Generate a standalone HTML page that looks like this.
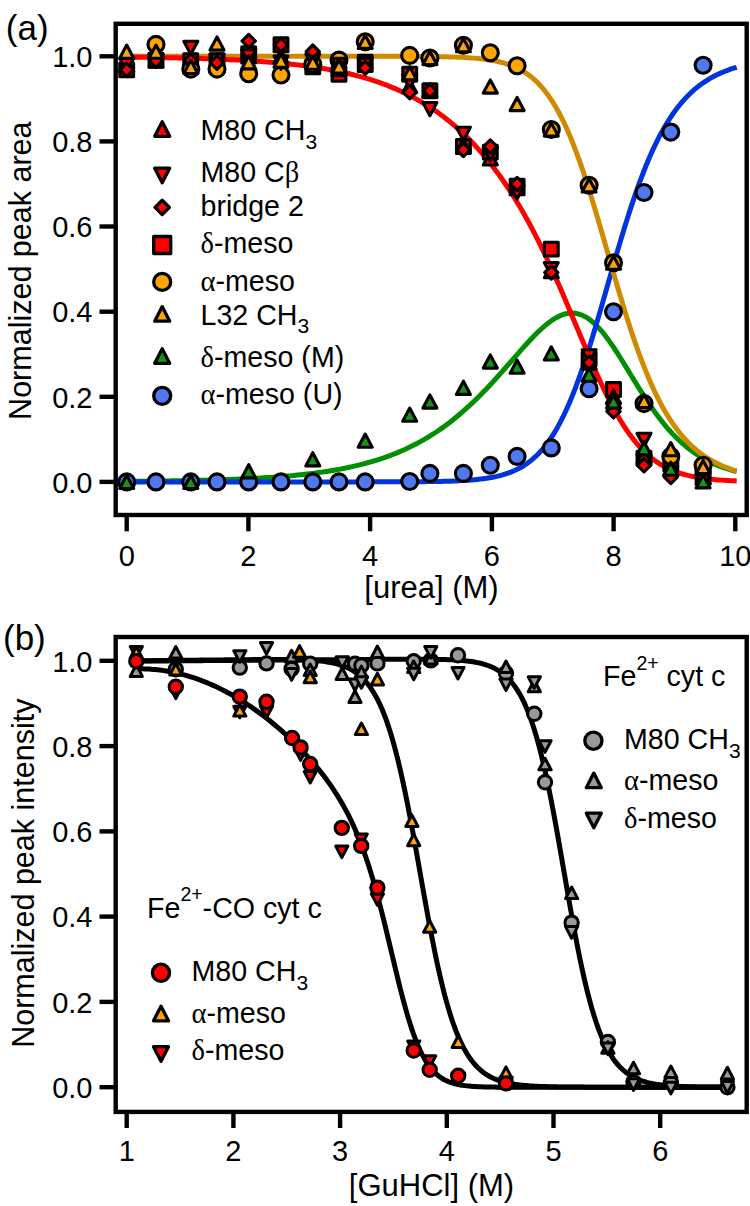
<!DOCTYPE html>
<html><head><meta charset="utf-8"><style>
html,body{margin:0;padding:0;background:#fff;}
body{width:750px;height:1206px;overflow:hidden;font-family:"Liberation Sans",sans-serif;}
svg{display:block;}
</style></head><body>
<svg width="750" height="1206" viewBox="0 0 750 1206">
<rect width="750" height="1206" fill="#fff"/>
<g fill="none" stroke-width="5" stroke-linecap="butt">
<path d="M126.70,481.38 L129.75,481.36 L132.80,481.33 L135.85,481.30 L138.90,481.28 L141.95,481.25 L145.00,481.22 L148.05,481.18 L151.10,481.15 L154.15,481.11 L157.20,481.08 L160.25,481.04 L163.30,481.00 L166.35,480.95 L169.40,480.91 L172.45,480.86 L175.50,480.81 L178.55,480.76 L181.60,480.71 L184.65,480.65 L187.70,480.59 L190.75,480.53 L193.80,480.47 L196.85,480.40 L199.90,480.33 L202.95,480.26 L206.00,480.18 L209.05,480.10 L212.10,480.01 L215.15,479.92 L218.20,479.83 L221.25,479.73 L224.30,479.63 L227.35,479.52 L230.40,479.41 L233.45,479.30 L236.50,479.17 L239.55,479.05 L242.60,478.91 L245.65,478.77 L248.70,478.62 L251.75,478.47 L254.80,478.31 L257.85,478.14 L260.90,477.97 L263.95,477.78 L267.00,477.59 L270.05,477.39 L273.10,477.18 L276.15,476.95 L279.20,476.72 L282.25,476.48 L285.30,476.23 L288.35,475.96 L291.40,475.69 L294.45,475.40 L297.50,475.10 L300.55,474.78 L303.60,474.45 L306.65,474.10 L309.70,473.74 L312.75,473.36 L315.80,472.97 L318.85,472.55 L321.90,472.12 L324.95,471.67 L328.00,471.20 L331.05,470.70 L334.10,470.19 L337.15,469.65 L340.20,469.09 L343.25,468.50 L346.30,467.89 L349.35,467.25 L352.40,466.58 L355.45,465.88 L358.50,465.16 L361.55,464.40 L364.60,463.60 L367.65,462.78 L370.70,461.92 L373.75,461.02 L376.80,460.08 L379.85,459.10 L382.90,458.09 L385.95,457.03 L389.00,455.92 L392.05,454.77 L395.10,453.58 L398.15,452.33 L401.20,451.04 L404.25,449.69 L407.30,448.29 L410.35,446.83 L413.40,445.32 L416.45,443.75 L419.50,442.11 L422.55,440.42 L425.60,438.66 L428.65,436.84 L431.70,434.95 L434.75,433.00 L437.80,430.98 L440.85,428.88 L443.90,426.72 L446.95,424.48 L450.00,422.16 L453.05,419.78 L456.10,417.32 L459.15,414.78 L462.20,412.17 L465.25,409.48 L468.30,406.72 L471.35,403.89 L474.40,400.98 L477.45,398.00 L480.50,394.95 L483.55,391.84 L486.60,388.66 L489.65,385.42 L492.70,382.13 L495.75,378.78 L498.80,375.39 L501.85,371.96 L504.90,368.50 L507.95,365.02 L511.00,361.52 L514.05,358.03 L517.10,354.54 L520.15,351.07 L523.20,347.64 L526.25,344.26 L529.30,340.94 L532.35,337.71 L535.40,334.59 L538.45,331.59 L541.50,328.73 L544.55,326.04 L547.60,323.55 L550.65,321.26 L553.70,319.21 L556.75,317.42 L559.80,315.90 L562.85,314.70 L565.90,313.81 L568.95,313.27 L572.00,313.09 L575.05,313.28 L578.10,313.85 L581.15,314.82 L584.20,316.17 L587.25,317.92 L590.30,320.06 L593.35,322.57 L596.40,325.44 L599.45,328.66 L602.50,332.20 L605.55,336.03 L608.60,340.13 L611.65,344.46 L614.70,349.00 L617.75,353.69 L620.80,358.52 L623.85,363.45 L626.90,368.43 L629.95,373.44 L633.00,378.45 L636.05,383.43 L639.10,388.35 L642.15,393.19 L645.20,397.93 L648.25,402.55 L651.30,407.03 L654.35,411.36 L657.40,415.54 L660.45,419.55 L663.50,423.39 L666.55,427.06 L669.60,430.55 L672.65,433.87 L675.70,437.01 L678.75,439.99 L681.80,442.80 L684.85,445.45 L687.90,447.95 L690.95,450.29 L694.00,452.49 L697.05,454.55 L700.10,456.48 L703.15,458.29 L706.20,459.97 L709.25,461.55 L712.30,463.01 L715.35,464.38 L718.40,465.66 L721.45,466.84 L724.50,467.95 L727.55,468.97 L730.60,469.92 L733.65,470.81 L736.70,471.63" stroke="#008f00"/>
<path d="M126.70,481.90 L129.75,481.90 L132.80,481.90 L135.85,481.90 L138.90,481.90 L141.95,481.90 L145.00,481.90 L148.05,481.90 L151.10,481.90 L154.15,481.90 L157.20,481.90 L160.25,481.90 L163.30,481.90 L166.35,481.90 L169.40,481.90 L172.45,481.90 L175.50,481.90 L178.55,481.90 L181.60,481.90 L184.65,481.90 L187.70,481.90 L190.75,481.90 L193.80,481.90 L196.85,481.90 L199.90,481.90 L202.95,481.90 L206.00,481.90 L209.05,481.90 L212.10,481.90 L215.15,481.90 L218.20,481.90 L221.25,481.90 L224.30,481.90 L227.35,481.90 L230.40,481.90 L233.45,481.90 L236.50,481.90 L239.55,481.90 L242.60,481.90 L245.65,481.90 L248.70,481.90 L251.75,481.90 L254.80,481.90 L257.85,481.90 L260.90,481.90 L263.95,481.90 L267.00,481.90 L270.05,481.90 L273.10,481.90 L276.15,481.90 L279.20,481.90 L282.25,481.90 L285.30,481.90 L288.35,481.90 L291.40,481.90 L294.45,481.90 L297.50,481.90 L300.55,481.90 L303.60,481.90 L306.65,481.90 L309.70,481.90 L312.75,481.90 L315.80,481.90 L318.85,481.90 L321.90,481.90 L324.95,481.90 L328.00,481.90 L331.05,481.90 L334.10,481.90 L337.15,481.89 L340.20,481.89 L343.25,481.89 L346.30,481.89 L349.35,481.89 L352.40,481.89 L355.45,481.89 L358.50,481.89 L361.55,481.88 L364.60,481.88 L367.65,481.88 L370.70,481.88 L373.75,481.87 L376.80,481.87 L379.85,481.87 L382.90,481.86 L385.95,481.86 L389.00,481.85 L392.05,481.84 L395.10,481.83 L398.15,481.82 L401.20,481.81 L404.25,481.80 L407.30,481.78 L410.35,481.77 L413.40,481.75 L416.45,481.73 L419.50,481.70 L422.55,481.67 L425.60,481.64 L428.65,481.60 L431.70,481.56 L434.75,481.51 L437.80,481.46 L440.85,481.39 L443.90,481.32 L446.95,481.24 L450.00,481.14 L453.05,481.04 L456.10,480.91 L459.15,480.78 L462.20,480.62 L465.25,480.44 L468.30,480.23 L471.35,480.00 L474.40,479.74 L477.45,479.44 L480.50,479.10 L483.55,478.72 L486.60,478.28 L489.65,477.79 L492.70,477.24 L495.75,476.61 L498.80,475.90 L501.85,475.11 L504.90,474.21 L507.95,473.20 L511.00,472.07 L514.05,470.80 L517.10,469.38 L520.15,467.79 L523.20,466.02 L526.25,464.04 L529.30,461.84 L532.35,459.41 L535.40,456.71 L538.45,453.73 L541.50,450.44 L544.55,446.83 L547.60,442.87 L550.65,438.54 L553.70,433.83 L556.75,428.71 L559.80,423.18 L562.85,417.21 L565.90,410.80 L568.95,403.94 L572.00,396.64 L575.05,388.90 L578.10,380.73 L581.15,372.15 L584.20,363.17 L587.25,353.83 L590.30,344.17 L593.35,334.22 L596.40,324.02 L599.45,313.63 L602.50,303.09 L605.55,292.47 L608.60,281.80 L611.65,271.16 L614.70,260.58 L617.75,250.12 L620.80,239.84 L623.85,229.76 L626.90,219.93 L629.95,210.38 L633.00,201.15 L636.05,192.25 L639.10,183.71 L642.15,175.54 L645.20,167.74 L648.25,160.32 L651.30,153.29 L654.35,146.64 L657.40,140.36 L660.45,134.45 L663.50,128.89 L666.55,123.68 L669.60,118.80 L672.65,114.24 L675.70,109.98 L678.75,106.01 L681.80,102.31 L684.85,98.87 L687.90,95.67 L690.95,92.70 L694.00,89.95 L697.05,87.40 L700.10,85.03 L703.15,82.84 L706.20,80.81 L709.25,78.93 L712.30,77.19 L715.35,75.59 L718.40,74.11 L721.45,72.74 L724.50,71.47 L727.55,70.30 L730.60,69.22 L733.65,68.22 L736.70,67.30" stroke="#0034dc"/>
<path d="M126.70,56.30 L129.75,56.30 L132.80,56.30 L135.85,56.30 L138.90,56.30 L141.95,56.30 L145.00,56.30 L148.05,56.30 L151.10,56.30 L154.15,56.30 L157.20,56.30 L160.25,56.30 L163.30,56.30 L166.35,56.30 L169.40,56.30 L172.45,56.30 L175.50,56.30 L178.55,56.30 L181.60,56.30 L184.65,56.30 L187.70,56.30 L190.75,56.30 L193.80,56.30 L196.85,56.30 L199.90,56.30 L202.95,56.30 L206.00,56.30 L209.05,56.30 L212.10,56.30 L215.15,56.30 L218.20,56.30 L221.25,56.30 L224.30,56.30 L227.35,56.30 L230.40,56.30 L233.45,56.30 L236.50,56.30 L239.55,56.30 L242.60,56.30 L245.65,56.30 L248.70,56.30 L251.75,56.30 L254.80,56.30 L257.85,56.30 L260.90,56.30 L263.95,56.30 L267.00,56.30 L270.05,56.30 L273.10,56.30 L276.15,56.30 L279.20,56.30 L282.25,56.30 L285.30,56.30 L288.35,56.30 L291.40,56.30 L294.45,56.30 L297.50,56.30 L300.55,56.30 L303.60,56.30 L306.65,56.30 L309.70,56.30 L312.75,56.30 L315.80,56.30 L318.85,56.30 L321.90,56.30 L324.95,56.30 L328.00,56.30 L331.05,56.30 L334.10,56.30 L337.15,56.30 L340.20,56.30 L343.25,56.30 L346.30,56.30 L349.35,56.31 L352.40,56.31 L355.45,56.31 L358.50,56.31 L361.55,56.31 L364.60,56.31 L367.65,56.31 L370.70,56.31 L373.75,56.32 L376.80,56.32 L379.85,56.32 L382.90,56.33 L385.95,56.33 L389.00,56.33 L392.05,56.34 L395.10,56.35 L398.15,56.35 L401.20,56.36 L404.25,56.37 L407.30,56.38 L410.35,56.39 L413.40,56.41 L416.45,56.42 L419.50,56.44 L422.55,56.47 L425.60,56.49 L428.65,56.52 L431.70,56.56 L434.75,56.59 L437.80,56.64 L440.85,56.69 L443.90,56.75 L446.95,56.82 L450.00,56.90 L453.05,56.99 L456.10,57.09 L459.15,57.21 L462.20,57.35 L465.25,57.51 L468.30,57.69 L471.35,57.90 L474.40,58.13 L477.45,58.40 L480.50,58.71 L483.55,59.06 L486.60,59.46 L489.65,59.92 L492.70,60.44 L495.75,61.03 L498.80,61.70 L501.85,62.46 L504.90,63.32 L507.95,64.29 L511.00,65.38 L514.05,66.62 L517.10,68.01 L520.15,69.57 L523.20,71.31 L526.25,73.27 L529.30,75.44 L532.35,77.87 L535.40,80.56 L538.45,83.54 L541.50,86.83 L544.55,90.46 L547.60,94.44 L550.65,98.79 L553.70,103.54 L556.75,108.69 L559.80,114.28 L562.85,120.29 L565.90,126.76 L568.95,133.66 L572.00,141.02 L575.05,148.81 L578.10,157.03 L581.15,165.65 L584.20,174.66 L587.25,184.03 L590.30,193.71 L593.35,203.67 L596.40,213.87 L599.45,224.25 L602.50,234.77 L605.55,245.37 L608.60,256.00 L611.65,266.60 L614.70,277.14 L617.75,287.55 L620.80,297.79 L623.85,307.83 L626.90,317.62 L629.95,327.13 L633.00,336.34 L636.05,345.21 L639.10,353.74 L642.15,361.91 L645.20,369.70 L648.25,377.13 L651.30,384.17 L654.35,390.85 L657.40,397.15 L660.45,403.09 L663.50,408.68 L666.55,413.93 L669.60,418.85 L672.65,423.45 L675.70,427.75 L678.75,431.77 L681.80,435.51 L684.85,438.99 L687.90,442.23 L690.95,445.24 L694.00,448.03 L697.05,450.62 L700.10,453.02 L703.15,455.25 L706.20,457.31 L709.25,459.21 L712.30,460.97 L715.35,462.60 L718.40,464.11 L721.45,465.50 L724.50,466.78 L727.55,467.96 L730.60,469.06 L733.65,470.07 L736.70,471.00" stroke="#d08a00"/>
<path d="M126.70,57.08 L129.75,57.11 L132.80,57.15 L135.85,57.18 L138.90,57.22 L141.95,57.26 L145.00,57.30 L148.05,57.35 L151.10,57.40 L154.15,57.44 L157.20,57.49 L160.25,57.55 L163.30,57.60 L166.35,57.66 L169.40,57.72 L172.45,57.78 L175.50,57.85 L178.55,57.91 L181.60,57.98 L184.65,58.06 L187.70,58.14 L190.75,58.22 L193.80,58.30 L196.85,58.39 L199.90,58.48 L202.95,58.58 L206.00,58.68 L209.05,58.78 L212.10,58.89 L215.15,59.00 L218.20,59.12 L221.25,59.25 L224.30,59.38 L227.35,59.51 L230.40,59.65 L233.45,59.80 L236.50,59.95 L239.55,60.11 L242.60,60.28 L245.65,60.45 L248.70,60.63 L251.75,60.82 L254.80,61.02 L257.85,61.23 L260.90,61.44 L263.95,61.66 L267.00,61.90 L270.05,62.14 L273.10,62.40 L276.15,62.66 L279.20,62.94 L282.25,63.23 L285.30,63.53 L288.35,63.84 L291.40,64.17 L294.45,64.51 L297.50,64.86 L300.55,65.24 L303.60,65.62 L306.65,66.02 L309.70,66.44 L312.75,66.88 L315.80,67.34 L318.85,67.81 L321.90,68.31 L324.95,68.82 L328.00,69.36 L331.05,69.92 L334.10,70.50 L337.15,71.11 L340.20,71.74 L343.25,72.40 L346.30,73.08 L349.35,73.79 L352.40,74.53 L355.45,75.31 L358.50,76.11 L361.55,76.95 L364.60,77.81 L367.65,78.72 L370.70,79.66 L373.75,80.64 L376.80,81.65 L379.85,82.71 L382.90,83.81 L385.95,84.95 L389.00,86.14 L392.05,87.37 L395.10,88.65 L398.15,89.98 L401.20,91.36 L404.25,92.79 L407.30,94.28 L410.35,95.82 L413.40,97.43 L416.45,99.09 L419.50,100.81 L422.55,102.60 L425.60,104.45 L428.65,106.37 L431.70,108.36 L434.75,110.42 L437.80,112.56 L440.85,114.77 L443.90,117.06 L446.95,119.43 L450.00,121.88 L453.05,124.42 L456.10,127.05 L459.15,129.77 L462.20,132.58 L465.25,135.48 L468.30,138.48 L471.35,141.59 L474.40,144.80 L477.45,148.11 L480.50,151.54 L483.55,155.07 L486.60,158.72 L489.65,162.49 L492.70,166.38 L495.75,170.39 L498.80,174.54 L501.85,178.81 L504.90,183.21 L507.95,187.75 L511.00,192.43 L514.05,197.25 L517.10,202.21 L520.15,207.32 L523.20,212.58 L526.25,217.99 L529.30,223.55 L532.35,229.25 L535.40,235.11 L538.45,241.12 L541.50,247.28 L544.55,253.58 L547.60,260.02 L550.65,266.60 L553.70,273.31 L556.75,280.13 L559.80,287.07 L562.85,294.11 L565.90,301.23 L568.95,308.41 L572.00,315.66 L575.05,322.93 L578.10,330.22 L581.15,337.50 L584.20,344.75 L587.25,351.95 L590.30,359.07 L593.35,366.08 L596.40,372.97 L599.45,379.70 L602.50,386.26 L605.55,392.63 L608.60,398.79 L611.65,404.71 L614.70,410.39 L617.75,415.82 L620.80,420.98 L623.85,425.87 L626.90,430.48 L629.95,434.82 L633.00,438.88 L636.05,442.68 L639.10,446.21 L642.15,449.48 L645.20,452.51 L648.25,455.30 L651.30,457.86 L654.35,460.21 L657.40,462.36 L660.45,464.32 L663.50,466.10 L666.55,467.72 L669.60,469.19 L672.65,470.51 L675.70,471.71 L678.75,472.79 L681.80,473.77 L684.85,474.64 L687.90,475.43 L690.95,476.13 L694.00,476.76 L697.05,477.32 L700.10,477.83 L703.15,478.28 L706.20,478.68 L709.25,479.04 L712.30,479.36 L715.35,479.64 L718.40,479.90 L721.45,480.12 L724.50,480.32 L727.55,480.50 L730.60,480.66 L733.65,480.80 L736.70,480.93" stroke="#ff0000"/>
</g>
<rect x="119.8" y="63.0" width="13.8" height="13.8" fill="#ff0000" stroke="#000" stroke-width="3.1" stroke-linejoin="round"/>
<rect x="149.1" y="53.2" width="13.8" height="13.8" fill="#ff0000" stroke="#000" stroke-width="3.1" stroke-linejoin="round"/>
<rect x="183.8" y="53.7" width="13.8" height="13.8" fill="#ff0000" stroke="#000" stroke-width="3.1" stroke-linejoin="round"/>
<rect x="210.1" y="53.7" width="13.8" height="13.8" fill="#ff0000" stroke="#000" stroke-width="3.1" stroke-linejoin="round"/>
<rect x="241.8" y="46.8" width="13.8" height="13.8" fill="#ff0000" stroke="#000" stroke-width="3.1" stroke-linejoin="round"/>
<rect x="274.1" y="37.9" width="13.8" height="13.8" fill="#ff0000" stroke="#000" stroke-width="3.1" stroke-linejoin="round"/>
<rect x="305.9" y="60.0" width="13.8" height="13.8" fill="#ff0000" stroke="#000" stroke-width="3.1" stroke-linejoin="round"/>
<rect x="332.1" y="67.3" width="13.8" height="13.8" fill="#ff0000" stroke="#000" stroke-width="3.1" stroke-linejoin="round"/>
<rect x="358.3" y="55.4" width="13.8" height="13.8" fill="#ff0000" stroke="#000" stroke-width="3.1" stroke-linejoin="round"/>
<rect x="402.8" y="67.3" width="13.8" height="13.8" fill="#ff0000" stroke="#000" stroke-width="3.1" stroke-linejoin="round"/>
<rect x="423.0" y="83.9" width="13.8" height="13.8" fill="#ff0000" stroke="#000" stroke-width="3.1" stroke-linejoin="round"/>
<rect x="456.5" y="139.6" width="13.8" height="13.8" fill="#ff0000" stroke="#000" stroke-width="3.1" stroke-linejoin="round"/>
<rect x="483.4" y="145.2" width="13.8" height="13.8" fill="#ff0000" stroke="#000" stroke-width="3.1" stroke-linejoin="round"/>
<rect x="510.2" y="179.2" width="13.8" height="13.8" fill="#ff0000" stroke="#000" stroke-width="3.1" stroke-linejoin="round"/>
<rect x="544.4" y="242.2" width="13.8" height="13.8" fill="#ff0000" stroke="#000" stroke-width="3.1" stroke-linejoin="round"/>
<rect x="582.2" y="352.0" width="13.8" height="13.8" fill="#ff0000" stroke="#000" stroke-width="3.1" stroke-linejoin="round"/>
<rect x="606.6" y="382.6" width="13.8" height="13.8" fill="#ff0000" stroke="#000" stroke-width="3.1" stroke-linejoin="round"/>
<rect x="637.1" y="451.2" width="13.8" height="13.8" fill="#ff0000" stroke="#000" stroke-width="3.1" stroke-linejoin="round"/>
<rect x="663.9" y="457.1" width="13.8" height="13.8" fill="#ff0000" stroke="#000" stroke-width="3.1" stroke-linejoin="round"/>
<rect x="696.2" y="470.1" width="13.8" height="13.8" fill="#ff0000" stroke="#000" stroke-width="3.1" stroke-linejoin="round"/>
<path d="M126.7,58.2 L133.7,71.4 L119.7,71.4 Z" fill="#ff0000" stroke="#000" stroke-width="3.1" stroke-linejoin="round"/>
<path d="M156.0,54.0 L163.0,67.2 L149.0,67.2 Z" fill="#ff0000" stroke="#000" stroke-width="3.1" stroke-linejoin="round"/>
<path d="M190.8,54.0 L197.8,67.2 L183.8,67.2 Z" fill="#ff0000" stroke="#000" stroke-width="3.1" stroke-linejoin="round"/>
<path d="M217.0,54.0 L224.0,67.2 L210.0,67.2 Z" fill="#ff0000" stroke="#000" stroke-width="3.1" stroke-linejoin="round"/>
<path d="M248.7,49.7 L255.7,62.9 L241.7,62.9 Z" fill="#ff0000" stroke="#000" stroke-width="3.1" stroke-linejoin="round"/>
<path d="M281.0,49.7 L288.0,62.9 L274.0,62.9 Z" fill="#ff0000" stroke="#000" stroke-width="3.1" stroke-linejoin="round"/>
<path d="M312.8,54.0 L319.8,67.2 L305.8,67.2 Z" fill="#ff0000" stroke="#000" stroke-width="3.1" stroke-linejoin="round"/>
<path d="M339.0,62.5 L346.0,75.7 L332.0,75.7 Z" fill="#ff0000" stroke="#000" stroke-width="3.1" stroke-linejoin="round"/>
<path d="M365.2,58.2 L372.2,71.4 L358.2,71.4 Z" fill="#ff0000" stroke="#000" stroke-width="3.1" stroke-linejoin="round"/>
<path d="M409.7,79.5 L416.7,92.7 L402.7,92.7 Z" fill="#ff0000" stroke="#000" stroke-width="3.1" stroke-linejoin="round"/>
<path d="M429.9,83.7 L436.9,96.9 L422.9,96.9 Z" fill="#ff0000" stroke="#000" stroke-width="3.1" stroke-linejoin="round"/>
<path d="M463.4,139.1 L470.4,152.3 L456.4,152.3 Z" fill="#ff0000" stroke="#000" stroke-width="3.1" stroke-linejoin="round"/>
<path d="M490.3,151.8 L497.3,165.0 L483.3,165.0 Z" fill="#ff0000" stroke="#000" stroke-width="3.1" stroke-linejoin="round"/>
<path d="M517.1,181.6 L524.1,194.8 L510.1,194.8 Z" fill="#ff0000" stroke="#000" stroke-width="3.1" stroke-linejoin="round"/>
<path d="M551.3,264.6 L558.3,277.8 L544.3,277.8 Z" fill="#ff0000" stroke="#000" stroke-width="3.1" stroke-linejoin="round"/>
<path d="M589.1,356.1 L596.1,369.3 L582.1,369.3 Z" fill="#ff0000" stroke="#000" stroke-width="3.1" stroke-linejoin="round"/>
<path d="M613.5,390.2 L620.5,403.4 L606.5,403.4 Z" fill="#ff0000" stroke="#000" stroke-width="3.1" stroke-linejoin="round"/>
<path d="M644.0,449.8 L651.0,463.0 L637.0,463.0 Z" fill="#ff0000" stroke="#000" stroke-width="3.1" stroke-linejoin="round"/>
<path d="M670.8,462.5 L677.8,475.7 L663.8,475.7 Z" fill="#ff0000" stroke="#000" stroke-width="3.1" stroke-linejoin="round"/>
<path d="M703.1,471.0 L710.1,484.2 L696.1,484.2 Z" fill="#ff0000" stroke="#000" stroke-width="3.1" stroke-linejoin="round"/>
<circle cx="156.0" cy="44.4" r="8.0" fill="#ffa500" stroke="#000" stroke-width="3.1"/>
<circle cx="190.8" cy="69.1" r="8.0" fill="#ffa500" stroke="#000" stroke-width="3.1"/>
<circle cx="217.0" cy="69.1" r="8.0" fill="#ffa500" stroke="#000" stroke-width="3.1"/>
<circle cx="248.7" cy="73.7" r="8.0" fill="#ffa500" stroke="#000" stroke-width="3.1"/>
<circle cx="281.0" cy="75.0" r="8.0" fill="#ffa500" stroke="#000" stroke-width="3.1"/>
<circle cx="312.8" cy="64.4" r="8.0" fill="#ffa500" stroke="#000" stroke-width="3.1"/>
<circle cx="339.0" cy="60.1" r="8.0" fill="#ffa500" stroke="#000" stroke-width="3.1"/>
<circle cx="365.2" cy="41.8" r="8.0" fill="#ffa500" stroke="#000" stroke-width="3.1"/>
<circle cx="409.7" cy="55.4" r="8.0" fill="#ffa500" stroke="#000" stroke-width="3.1"/>
<circle cx="429.9" cy="58.0" r="8.0" fill="#ffa500" stroke="#000" stroke-width="3.1"/>
<circle cx="463.4" cy="45.2" r="8.0" fill="#ffa500" stroke="#000" stroke-width="3.1"/>
<circle cx="490.3" cy="52.7" r="8.0" fill="#ffa500" stroke="#000" stroke-width="3.1"/>
<circle cx="517.1" cy="65.7" r="8.0" fill="#ffa500" stroke="#000" stroke-width="3.1"/>
<circle cx="551.3" cy="129.5" r="8.0" fill="#ffa500" stroke="#000" stroke-width="3.1"/>
<circle cx="589.1" cy="185.3" r="8.0" fill="#ffa500" stroke="#000" stroke-width="3.1"/>
<circle cx="613.5" cy="262.7" r="8.0" fill="#ffa500" stroke="#000" stroke-width="3.1"/>
<circle cx="644.0" cy="403.6" r="8.0" fill="#ffa500" stroke="#000" stroke-width="3.1"/>
<circle cx="670.8" cy="456.4" r="8.0" fill="#ffa500" stroke="#000" stroke-width="3.1"/>
<circle cx="703.1" cy="465.3" r="8.0" fill="#ffa500" stroke="#000" stroke-width="3.1"/>
<path d="M126.7,71.4 L133.7,58.2 L119.7,58.2 Z" fill="#ff0000" stroke="#000" stroke-width="3.1" stroke-linejoin="round"/>
<path d="M156.0,67.2 L163.0,54.0 L149.0,54.0 Z" fill="#ff0000" stroke="#000" stroke-width="3.1" stroke-linejoin="round"/>
<path d="M190.8,54.4 L197.8,41.2 L183.8,41.2 Z" fill="#ff0000" stroke="#000" stroke-width="3.1" stroke-linejoin="round"/>
<path d="M217.0,67.2 L224.0,54.0 L210.0,54.0 Z" fill="#ff0000" stroke="#000" stroke-width="3.1" stroke-linejoin="round"/>
<path d="M248.7,62.9 L255.7,49.7 L241.7,49.7 Z" fill="#ff0000" stroke="#000" stroke-width="3.1" stroke-linejoin="round"/>
<path d="M281.0,69.3 L288.0,56.1 L274.0,56.1 Z" fill="#ff0000" stroke="#000" stroke-width="3.1" stroke-linejoin="round"/>
<path d="M312.8,67.2 L319.8,54.0 L305.8,54.0 Z" fill="#ff0000" stroke="#000" stroke-width="3.1" stroke-linejoin="round"/>
<path d="M339.0,71.4 L346.0,58.2 L332.0,58.2 Z" fill="#ff0000" stroke="#000" stroke-width="3.1" stroke-linejoin="round"/>
<path d="M365.2,71.4 L372.2,58.2 L358.2,58.2 Z" fill="#ff0000" stroke="#000" stroke-width="3.1" stroke-linejoin="round"/>
<path d="M409.7,88.4 L416.7,75.2 L402.7,75.2 Z" fill="#ff0000" stroke="#000" stroke-width="3.1" stroke-linejoin="round"/>
<path d="M429.9,115.7 L436.9,102.5 L422.9,102.5 Z" fill="#ff0000" stroke="#000" stroke-width="3.1" stroke-linejoin="round"/>
<path d="M463.4,140.4 L470.4,127.2 L456.4,127.2 Z" fill="#ff0000" stroke="#000" stroke-width="3.1" stroke-linejoin="round"/>
<path d="M490.3,160.8 L497.3,147.6 L483.3,147.6 Z" fill="#ff0000" stroke="#000" stroke-width="3.1" stroke-linejoin="round"/>
<path d="M517.1,199.1 L524.1,185.9 L510.1,185.9 Z" fill="#ff0000" stroke="#000" stroke-width="3.1" stroke-linejoin="round"/>
<path d="M551.3,275.7 L558.3,262.5 L544.3,262.5 Z" fill="#ff0000" stroke="#000" stroke-width="3.1" stroke-linejoin="round"/>
<path d="M589.1,362.9 L596.1,349.7 L582.1,349.7 Z" fill="#ff0000" stroke="#000" stroke-width="3.1" stroke-linejoin="round"/>
<path d="M613.5,416.1 L620.5,402.9 L606.5,402.9 Z" fill="#ff0000" stroke="#000" stroke-width="3.1" stroke-linejoin="round"/>
<path d="M644.0,446.4 L651.0,433.2 L637.0,433.2 Z" fill="#ff0000" stroke="#000" stroke-width="3.1" stroke-linejoin="round"/>
<path d="M670.8,480.0 L677.8,466.8 L663.8,466.8 Z" fill="#ff0000" stroke="#000" stroke-width="3.1" stroke-linejoin="round"/>
<path d="M703.1,484.2 L710.1,471.0 L696.1,471.0 Z" fill="#ff0000" stroke="#000" stroke-width="3.1" stroke-linejoin="round"/>
<path d="M126.7,63.2 L133.4,69.9 L126.7,76.6 L120.0,69.9 Z" fill="#ff0000" stroke="#000" stroke-width="3.1" stroke-linejoin="round"/>
<path d="M156.0,53.9 L162.7,60.6 L156.0,67.3 L149.3,60.6 Z" fill="#ff0000" stroke="#000" stroke-width="3.1" stroke-linejoin="round"/>
<path d="M190.8,53.9 L197.4,60.6 L190.8,67.3 L184.1,60.6 Z" fill="#ff0000" stroke="#000" stroke-width="3.1" stroke-linejoin="round"/>
<path d="M217.0,56.0 L223.7,62.7 L217.0,69.4 L210.3,62.7 Z" fill="#ff0000" stroke="#000" stroke-width="3.1" stroke-linejoin="round"/>
<path d="M248.7,34.3 L255.4,41.0 L248.7,47.7 L242.0,41.0 Z" fill="#ff0000" stroke="#000" stroke-width="3.1" stroke-linejoin="round"/>
<path d="M281.0,38.1 L287.7,44.8 L281.0,51.5 L274.3,44.8 Z" fill="#ff0000" stroke="#000" stroke-width="3.1" stroke-linejoin="round"/>
<path d="M312.8,44.9 L319.4,51.6 L312.8,58.3 L306.1,51.6 Z" fill="#ff0000" stroke="#000" stroke-width="3.1" stroke-linejoin="round"/>
<path d="M339.0,60.2 L345.7,66.9 L339.0,73.6 L332.3,66.9 Z" fill="#ff0000" stroke="#000" stroke-width="3.1" stroke-linejoin="round"/>
<path d="M365.2,61.1 L371.9,67.8 L365.2,74.5 L358.5,67.8 Z" fill="#ff0000" stroke="#000" stroke-width="3.1" stroke-linejoin="round"/>
<path d="M409.7,85.4 L416.4,92.1 L409.7,98.8 L403.0,92.1 Z" fill="#ff0000" stroke="#000" stroke-width="3.1" stroke-linejoin="round"/>
<path d="M429.9,84.1 L436.6,90.8 L429.9,97.5 L423.2,90.8 Z" fill="#ff0000" stroke="#000" stroke-width="3.1" stroke-linejoin="round"/>
<path d="M463.4,143.2 L470.1,149.9 L463.4,156.6 L456.7,149.9 Z" fill="#ff0000" stroke="#000" stroke-width="3.1" stroke-linejoin="round"/>
<path d="M490.3,139.8 L497.0,146.5 L490.3,153.2 L483.6,146.5 Z" fill="#ff0000" stroke="#000" stroke-width="3.1" stroke-linejoin="round"/>
<path d="M517.1,177.3 L523.8,184.0 L517.1,190.7 L510.4,184.0 Z" fill="#ff0000" stroke="#000" stroke-width="3.1" stroke-linejoin="round"/>
<path d="M551.3,265.8 L558.0,272.5 L551.3,279.2 L544.6,272.5 Z" fill="#ff0000" stroke="#000" stroke-width="3.1" stroke-linejoin="round"/>
<path d="M589.1,356.0 L595.8,362.7 L589.1,369.4 L582.4,362.7 Z" fill="#ff0000" stroke="#000" stroke-width="3.1" stroke-linejoin="round"/>
<path d="M613.5,404.6 L620.2,411.3 L613.5,418.0 L606.8,411.3 Z" fill="#ff0000" stroke="#000" stroke-width="3.1" stroke-linejoin="round"/>
<path d="M644.0,458.6 L650.7,465.3 L644.0,472.0 L637.3,465.3 Z" fill="#ff0000" stroke="#000" stroke-width="3.1" stroke-linejoin="round"/>
<path d="M670.8,470.3 L677.5,477.0 L670.8,483.7 L664.1,477.0 Z" fill="#ff0000" stroke="#000" stroke-width="3.1" stroke-linejoin="round"/>
<path d="M703.1,470.9 L709.9,477.6 L703.1,484.3 L696.4,477.6 Z" fill="#ff0000" stroke="#000" stroke-width="3.1" stroke-linejoin="round"/>
<path d="M126.7,45.0 L133.7,58.2 L119.7,58.2 Z" fill="#ffa500" stroke="#000" stroke-width="3.1" stroke-linejoin="round"/>
<path d="M156.0,45.0 L163.0,58.2 L149.0,58.2 Z" fill="#ffa500" stroke="#000" stroke-width="3.1" stroke-linejoin="round"/>
<path d="M190.8,60.3 L197.8,73.5 L183.8,73.5 Z" fill="#ffa500" stroke="#000" stroke-width="3.1" stroke-linejoin="round"/>
<path d="M217.0,36.9 L224.0,50.1 L210.0,50.1 Z" fill="#ffa500" stroke="#000" stroke-width="3.1" stroke-linejoin="round"/>
<path d="M248.7,55.7 L255.7,68.9 L241.7,68.9 Z" fill="#ffa500" stroke="#000" stroke-width="3.1" stroke-linejoin="round"/>
<path d="M281.0,54.0 L288.0,67.2 L274.0,67.2 Z" fill="#ffa500" stroke="#000" stroke-width="3.1" stroke-linejoin="round"/>
<path d="M312.8,56.1 L319.8,69.3 L305.8,69.3 Z" fill="#ffa500" stroke="#000" stroke-width="3.1" stroke-linejoin="round"/>
<path d="M339.0,59.9 L346.0,73.1 L332.0,73.1 Z" fill="#ffa500" stroke="#000" stroke-width="3.1" stroke-linejoin="round"/>
<path d="M365.2,35.2 L372.2,48.4 L358.2,48.4 Z" fill="#ffa500" stroke="#000" stroke-width="3.1" stroke-linejoin="round"/>
<path d="M409.7,66.7 L416.7,79.9 L402.7,79.9 Z" fill="#ffa500" stroke="#000" stroke-width="3.1" stroke-linejoin="round"/>
<path d="M429.9,51.4 L436.9,64.6 L422.9,64.6 Z" fill="#ffa500" stroke="#000" stroke-width="3.1" stroke-linejoin="round"/>
<path d="M463.4,38.6 L470.4,51.8 L456.4,51.8 Z" fill="#ffa500" stroke="#000" stroke-width="3.1" stroke-linejoin="round"/>
<path d="M490.3,79.9 L497.3,93.1 L483.3,93.1 Z" fill="#ffa500" stroke="#000" stroke-width="3.1" stroke-linejoin="round"/>
<path d="M517.1,97.4 L524.1,110.6 L510.1,110.6 Z" fill="#ffa500" stroke="#000" stroke-width="3.1" stroke-linejoin="round"/>
<path d="M551.3,122.9 L558.3,136.1 L544.3,136.1 Z" fill="#ffa500" stroke="#000" stroke-width="3.1" stroke-linejoin="round"/>
<path d="M589.1,178.7 L596.1,191.9 L582.1,191.9 Z" fill="#ffa500" stroke="#000" stroke-width="3.1" stroke-linejoin="round"/>
<path d="M613.5,256.1 L620.5,269.3 L606.5,269.3 Z" fill="#ffa500" stroke="#000" stroke-width="3.1" stroke-linejoin="round"/>
<path d="M644.0,394.4 L651.0,407.6 L637.0,407.6 Z" fill="#ffa500" stroke="#000" stroke-width="3.1" stroke-linejoin="round"/>
<path d="M670.8,442.5 L677.8,455.7 L663.8,455.7 Z" fill="#ffa500" stroke="#000" stroke-width="3.1" stroke-linejoin="round"/>
<path d="M703.1,460.4 L710.1,473.6 L696.1,473.6 Z" fill="#ffa500" stroke="#000" stroke-width="3.1" stroke-linejoin="round"/>
<circle cx="126.7" cy="481.9" r="8.0" fill="#5078f0" stroke="#000" stroke-width="3.1"/>
<circle cx="156.0" cy="481.9" r="8.0" fill="#5078f0" stroke="#000" stroke-width="3.1"/>
<circle cx="190.8" cy="481.9" r="8.0" fill="#5078f0" stroke="#000" stroke-width="3.1"/>
<circle cx="217.0" cy="481.9" r="8.0" fill="#5078f0" stroke="#000" stroke-width="3.1"/>
<circle cx="248.7" cy="481.9" r="8.0" fill="#5078f0" stroke="#000" stroke-width="3.1"/>
<circle cx="281.0" cy="481.9" r="8.0" fill="#5078f0" stroke="#000" stroke-width="3.1"/>
<circle cx="312.8" cy="481.9" r="8.0" fill="#5078f0" stroke="#000" stroke-width="3.1"/>
<circle cx="339.0" cy="481.9" r="8.0" fill="#5078f0" stroke="#000" stroke-width="3.1"/>
<circle cx="365.2" cy="481.9" r="8.0" fill="#5078f0" stroke="#000" stroke-width="3.1"/>
<circle cx="409.7" cy="481.5" r="8.0" fill="#5078f0" stroke="#000" stroke-width="3.1"/>
<circle cx="429.9" cy="473.4" r="8.0" fill="#5078f0" stroke="#000" stroke-width="3.1"/>
<circle cx="463.4" cy="473.4" r="8.0" fill="#5078f0" stroke="#000" stroke-width="3.1"/>
<circle cx="490.3" cy="465.3" r="8.0" fill="#5078f0" stroke="#000" stroke-width="3.1"/>
<circle cx="517.1" cy="456.4" r="8.0" fill="#5078f0" stroke="#000" stroke-width="3.1"/>
<circle cx="551.3" cy="447.9" r="8.0" fill="#5078f0" stroke="#000" stroke-width="3.1"/>
<circle cx="589.1" cy="388.7" r="8.0" fill="#5078f0" stroke="#000" stroke-width="3.1"/>
<circle cx="613.5" cy="311.7" r="8.0" fill="#5078f0" stroke="#000" stroke-width="3.1"/>
<circle cx="644.0" cy="192.5" r="8.0" fill="#5078f0" stroke="#000" stroke-width="3.1"/>
<circle cx="670.8" cy="132.1" r="8.0" fill="#5078f0" stroke="#000" stroke-width="3.1"/>
<circle cx="703.1" cy="65.2" r="8.0" fill="#5078f0" stroke="#000" stroke-width="3.1"/>
<path d="M126.7,475.3 L133.7,488.5 L119.7,488.5 Z" fill="#149614" stroke="#000" stroke-width="3.1" stroke-linejoin="round"/>
<path d="M190.8,475.3 L197.8,488.5 L183.8,488.5 Z" fill="#149614" stroke="#000" stroke-width="3.1" stroke-linejoin="round"/>
<path d="M248.7,464.7 L255.7,477.9 L241.7,477.9 Z" fill="#149614" stroke="#000" stroke-width="3.1" stroke-linejoin="round"/>
<path d="M312.8,452.7 L319.8,465.9 L305.8,465.9 Z" fill="#149614" stroke="#000" stroke-width="3.1" stroke-linejoin="round"/>
<path d="M365.2,434.0 L372.2,447.2 L358.2,447.2 Z" fill="#149614" stroke="#000" stroke-width="3.1" stroke-linejoin="round"/>
<path d="M409.7,408.1 L416.7,421.3 L402.7,421.3 Z" fill="#149614" stroke="#000" stroke-width="3.1" stroke-linejoin="round"/>
<path d="M429.9,394.9 L436.9,408.1 L422.9,408.1 Z" fill="#149614" stroke="#000" stroke-width="3.1" stroke-linejoin="round"/>
<path d="M463.4,381.2 L470.4,394.4 L456.4,394.4 Z" fill="#149614" stroke="#000" stroke-width="3.1" stroke-linejoin="round"/>
<path d="M490.3,354.9 L497.3,368.1 L483.3,368.1 Z" fill="#149614" stroke="#000" stroke-width="3.1" stroke-linejoin="round"/>
<path d="M517.1,360.0 L524.1,373.2 L510.1,373.2 Z" fill="#149614" stroke="#000" stroke-width="3.1" stroke-linejoin="round"/>
<path d="M551.3,346.8 L558.3,360.0 L544.3,360.0 Z" fill="#149614" stroke="#000" stroke-width="3.1" stroke-linejoin="round"/>
<path d="M589.1,368.0 L596.1,381.2 L582.1,381.2 Z" fill="#149614" stroke="#000" stroke-width="3.1" stroke-linejoin="round"/>
<path d="M613.5,394.9 L620.5,408.1 L606.5,408.1 Z" fill="#149614" stroke="#000" stroke-width="3.1" stroke-linejoin="round"/>
<path d="M644.0,441.7 L651.0,454.9 L637.0,454.9 Z" fill="#149614" stroke="#000" stroke-width="3.1" stroke-linejoin="round"/>
<path d="M670.8,462.1 L677.8,475.3 L663.8,475.3 Z" fill="#149614" stroke="#000" stroke-width="3.1" stroke-linejoin="round"/>
<path d="M703.1,474.7 L710.1,487.9 L696.1,487.9 Z" fill="#149614" stroke="#000" stroke-width="3.1" stroke-linejoin="round"/>
<path d="M162.2,121.7 L169.7,136.3 L154.7,136.3 Z" fill="#ff0000" stroke="#000" stroke-width="3.3" stroke-linejoin="round"/>
<path d="M162.2,182.8 L169.7,168.2 L154.7,168.2 Z" fill="#ff0000" stroke="#000" stroke-width="3.3" stroke-linejoin="round"/>
<path d="M162.2,200.2 L169.4,207.4 L162.2,214.6 L155.0,207.4 Z" fill="#ff0000" stroke="#000" stroke-width="3.3" stroke-linejoin="round"/>
<rect x="153.7" y="236.5" width="17.0" height="17.0" fill="#ff0000" stroke="#000" stroke-width="3.3" stroke-linejoin="round"/>
<circle cx="162.2" cy="281.9" r="8.5" fill="#ffa500" stroke="#000" stroke-width="3.3"/>
<path d="M162.2,306.6 L169.7,321.2 L154.7,321.2 Z" fill="#ffa500" stroke="#000" stroke-width="3.3" stroke-linejoin="round"/>
<path d="M162.2,348.7 L169.7,363.3 L154.7,363.3 Z" fill="#149614" stroke="#000" stroke-width="3.3" stroke-linejoin="round"/>
<circle cx="162.2" cy="395.8" r="8.5" fill="#5078f0" stroke="#000" stroke-width="3.3"/>
<g font-family="Liberation Sans, sans-serif" font-size="28.6" fill="#000">
<text x="200.5" y="140.2">M80 CH<tspan font-size="21" dy="8.6">3</tspan></text>
<text x="200.5" y="181.7">M80 C<tspan font-family="Liberation Serif, serif">β</tspan></text>
<text x="200.5" y="215.8">bridge 2</text>
<text x="200.5" y="253.3"><tspan font-family="Liberation Serif, serif">δ</tspan>-meso</text>
<text x="200.5" y="290.6"><tspan font-family="Liberation Serif, serif">α</tspan>-meso</text>
<text x="200.5" y="324.7">L32 CH<tspan font-size="21" dy="8.6">3</tspan></text>
<text x="200.5" y="366.7"><tspan font-family="Liberation Serif, serif">δ</tspan>-meso (M)</text>
<text x="200.5" y="403.5"><tspan font-family="Liberation Serif, serif">α</tspan>-meso (U)</text>
</g>
<rect x="115.7" y="23.8" width="631" height="491.2" fill="none" stroke="#000" stroke-width="4.4"/>
<g stroke="#000" stroke-width="4.4">
<line x1="99.5" y1="481.9" x2="115.7" y2="481.9"/>
<line x1="99.5" y1="396.8" x2="115.7" y2="396.8"/>
<line x1="99.5" y1="311.7" x2="115.7" y2="311.7"/>
<line x1="99.5" y1="226.5" x2="115.7" y2="226.5"/>
<line x1="99.5" y1="141.4" x2="115.7" y2="141.4"/>
<line x1="99.5" y1="56.3" x2="115.7" y2="56.3"/>
<line x1="126.7" y1="514.7" x2="126.7" y2="531.3"/>
<line x1="248.4" y1="514.7" x2="248.4" y2="531.3"/>
<line x1="370.1" y1="514.7" x2="370.1" y2="531.3"/>
<line x1="491.9" y1="514.7" x2="491.9" y2="531.3"/>
<line x1="613.6" y1="514.7" x2="613.6" y2="531.3"/>
<line x1="735.3" y1="514.7" x2="735.3" y2="531.3"/>
</g>
<g font-family="Liberation Sans, sans-serif" font-size="29" fill="#000">
<text x="92.5" y="492.6" text-anchor="end">0.0</text>
<text x="92.5" y="407.5" text-anchor="end">0.2</text>
<text x="92.5" y="322.4" text-anchor="end">0.4</text>
<text x="92.5" y="237.2" text-anchor="end">0.6</text>
<text x="92.5" y="152.1" text-anchor="end">0.8</text>
<text x="92.5" y="67.0" text-anchor="end">1.0</text>
<text x="126.7" y="565.8" text-anchor="middle">0</text>
<text x="248.4" y="565.8" text-anchor="middle">2</text>
<text x="370.1" y="565.8" text-anchor="middle">4</text>
<text x="491.9" y="565.8" text-anchor="middle">6</text>
<text x="613.6" y="565.8" text-anchor="middle">8</text>
<text x="735.3" y="565.8" text-anchor="middle">10</text>
</g>
<text font-family="Liberation Sans, sans-serif" font-size="31" x="431.5" y="597.5" text-anchor="middle">[urea] (M)</text>
<text font-family="Liberation Sans, sans-serif" font-size="30.5" transform="translate(31.3,270.7) rotate(-90)" text-anchor="middle">Normalized peak area</text>
<text font-family="Liberation Sans, sans-serif" font-size="35" x="5.8" y="40">(a)</text>
<g fill="none" stroke="#000" stroke-width="5">
<path d="M136.30,668.88 L138.42,668.85 L140.54,668.85 L142.66,668.87 L144.78,668.93 L146.90,669.01 L149.02,669.11 L151.13,669.25 L153.25,669.41 L155.37,669.60 L157.49,669.82 L159.61,670.06 L161.73,670.33 L163.85,670.63 L165.96,670.96 L168.08,671.31 L170.20,671.70 L172.32,672.11 L174.44,672.54 L176.56,673.01 L178.68,673.50 L180.80,674.02 L182.91,674.57 L185.03,675.14 L187.15,675.74 L189.27,676.37 L191.39,677.03 L193.51,677.72 L195.63,678.43 L197.75,679.17 L199.86,679.94 L201.98,680.73 L204.10,681.55 L206.22,682.40 L208.34,683.28 L210.46,684.19 L212.58,685.12 L214.69,686.08 L216.81,687.07 L218.93,688.08 L221.05,689.12 L223.17,690.20 L225.29,691.29 L227.41,692.42 L229.53,693.57 L231.64,694.75 L233.76,695.96 L235.88,697.20 L238.00,698.47 L240.12,699.76 L242.24,701.08 L244.36,702.43 L246.48,703.80 L248.59,705.21 L250.71,706.64 L252.83,708.10 L254.95,709.59 L257.07,711.11 L259.19,712.65 L261.31,714.23 L263.43,715.83 L265.54,717.46 L267.66,719.13 L269.78,720.82 L271.90,722.54 L274.02,724.29 L276.14,726.07 L278.26,727.88 L280.37,729.72 L282.49,731.60 L284.61,733.51 L286.73,735.44 L288.85,737.42 L290.97,739.42 L293.09,741.46 L295.21,743.54 L297.32,745.66 L299.44,747.81 L301.56,750.00 L303.68,752.23 L305.80,754.51 L307.92,756.83 L310.04,759.20 L312.16,761.61 L314.27,764.08 L316.39,766.61 L318.51,769.19 L320.63,771.84 L322.75,774.55 L324.87,777.33 L326.99,780.19 L329.10,783.14 L331.22,786.17 L333.34,789.30 L335.46,792.53 L337.58,795.88 L339.70,799.34 L341.82,802.95 L343.94,806.69 L346.05,810.59 L348.17,814.66 L350.29,818.92 L352.41,823.37 L354.53,828.03 L356.65,832.92 L358.77,838.05 L360.89,843.43 L363.00,849.09 L365.12,855.04 L367.24,861.27 L369.36,867.82 L371.48,874.67 L373.60,881.83 L375.72,889.29 L377.84,897.05 L379.95,905.08 L382.07,913.37 L384.19,921.89 L386.31,930.58 L388.43,939.41 L390.55,948.32 L392.67,957.26 L394.78,966.16 L396.90,974.96 L399.02,983.59 L401.14,992.00 L403.26,1000.12 L405.38,1007.91 L407.50,1015.32 L409.62,1022.33 L411.73,1028.89 L413.85,1035.00 L415.97,1040.66 L418.09,1045.85 L420.21,1050.59 L422.33,1054.90 L424.45,1058.79 L426.57,1062.29 L428.68,1065.42 L430.80,1068.20 L432.92,1070.67 L435.04,1072.86 L437.16,1074.78 L439.28,1076.47 L441.40,1077.95 L443.51,1079.24 L445.63,1080.36 L447.75,1081.34 L449.87,1082.19 L451.99,1082.92 L454.11,1083.55 L456.23,1084.10 L458.35,1084.57 L460.46,1084.97 L462.58,1085.32 L464.70,1085.61 L466.82,1085.87 L468.94,1086.08 L471.06,1086.26 L473.18,1086.42 L475.30,1086.55 L477.41,1086.66 L479.53,1086.76 L481.65,1086.84 L483.77,1086.91 L485.89,1086.96 L488.01,1087.01 L490.13,1087.05 L492.25,1087.08 L494.36,1087.11 L496.48,1087.13 L498.60,1087.15 L500.72,1087.16 L502.84,1087.18 L504.96,1087.19 L507.08,1087.19 L509.19,1087.20 L511.31,1087.20 L513.43,1087.21 L515.55,1087.21 L517.67,1087.21 L519.79,1087.21 L521.91,1087.21 L524.03,1087.22 L526.14,1087.22 L528.26,1087.22 L530.38,1087.21 L532.50,1087.21 L534.62,1087.21 L536.74,1087.21 L538.86,1087.21 L540.98,1087.21 L543.09,1087.21 L545.21,1087.21 L547.33,1087.21 L549.45,1087.21 L551.57,1087.21 L553.69,1087.21 L555.81,1087.21 L557.92,1087.21 L560.04,1087.21 L562.16,1087.21 L564.28,1087.21 L566.40,1087.20 L568.52,1087.20 L570.64,1087.20 L572.76,1087.20 L574.87,1087.20 L576.99,1087.20 L579.11,1087.20 L581.23,1087.20 L583.35,1087.20 L585.47,1087.20 L587.59,1087.20 L589.71,1087.20 L591.82,1087.20 L593.94,1087.20 L596.06,1087.20 L598.18,1087.20 L600.30,1087.20 L602.42,1087.20 L604.54,1087.20 L606.65,1087.20 L608.77,1087.20 L610.89,1087.20 L613.01,1087.20 L615.13,1087.20 L617.25,1087.20 L619.37,1087.20 L621.49,1087.20 L623.60,1087.20 L625.72,1087.20 L627.84,1087.20 L629.96,1087.20 L632.08,1087.20 L634.20,1087.20 L636.32,1087.20 L638.44,1087.20 L640.55,1087.20 L642.67,1087.20 L644.79,1087.20 L646.91,1087.20 L649.03,1087.20 L651.15,1087.20 L653.27,1087.20 L655.39,1087.20 L657.50,1087.20 L659.62,1087.20 L661.74,1087.20 L663.86,1087.20 L665.98,1087.20 L668.10,1087.20 L670.22,1087.20 L672.33,1087.20 L674.45,1087.20 L676.57,1087.20 L678.69,1087.20 L680.81,1087.20 L682.93,1087.20 L685.05,1087.20 L687.17,1087.20 L689.28,1087.20 L691.40,1087.20 L693.52,1087.20 L695.64,1087.20 L697.76,1087.20 L699.88,1087.20 L702.00,1087.20 L704.12,1087.20 L706.23,1087.20 L708.35,1087.20 L710.47,1087.20 L712.59,1087.20 L714.71,1087.20 L716.83,1087.20 L718.95,1087.20 L721.06,1087.20 L723.18,1087.20 L725.30,1087.20 L727.42,1087.20"/>
<path d="M136.30,660.79 L138.42,660.77 L140.54,660.75 L142.66,660.72 L144.78,660.70 L146.90,660.68 L149.02,660.66 L151.13,660.63 L153.25,660.61 L155.37,660.59 L157.49,660.57 L159.61,660.54 L161.73,660.52 L163.85,660.50 L165.96,660.48 L168.08,660.45 L170.20,660.43 L172.32,660.41 L174.44,660.39 L176.56,660.37 L178.68,660.34 L180.80,660.32 L182.91,660.30 L185.03,660.28 L187.15,660.25 L189.27,660.23 L191.39,660.21 L193.51,660.19 L195.63,660.17 L197.75,660.14 L199.86,660.12 L201.98,660.10 L204.10,660.08 L206.22,660.06 L208.34,660.03 L210.46,660.01 L212.58,659.99 L214.69,659.97 L216.81,659.95 L218.93,659.93 L221.05,659.91 L223.17,659.89 L225.29,659.86 L227.41,659.84 L229.53,659.82 L231.64,659.80 L233.76,659.78 L235.88,659.76 L238.00,659.74 L240.12,659.73 L242.24,659.71 L244.36,659.69 L246.48,659.67 L248.59,659.65 L250.71,659.64 L252.83,659.62 L254.95,659.61 L257.07,659.59 L259.19,659.58 L261.31,659.57 L263.43,659.56 L265.54,659.55 L267.66,659.54 L269.78,659.53 L271.90,659.53 L274.02,659.53 L276.14,659.53 L278.26,659.53 L280.37,659.54 L282.49,659.55 L284.61,659.56 L286.73,659.58 L288.85,659.60 L290.97,659.63 L293.09,659.66 L295.21,659.70 L297.32,659.75 L299.44,659.81 L301.56,659.87 L303.68,659.95 L305.80,660.04 L307.92,660.14 L310.04,660.25 L312.16,660.38 L314.27,660.53 L316.39,660.70 L318.51,660.89 L320.63,661.10 L322.75,661.35 L324.87,661.62 L326.99,661.93 L329.10,662.28 L331.22,662.67 L333.34,663.11 L335.46,663.60 L337.58,664.15 L339.70,664.76 L341.82,665.45 L343.94,666.23 L346.05,667.09 L348.17,668.05 L350.29,669.12 L352.41,670.32 L354.53,671.65 L356.65,673.13 L358.77,674.77 L360.89,676.60 L363.00,678.62 L365.12,680.86 L367.24,683.34 L369.36,686.08 L371.48,689.10 L373.60,692.43 L375.72,696.09 L377.84,700.10 L379.95,704.49 L382.07,709.29 L384.19,714.51 L386.31,720.18 L388.43,726.32 L390.55,732.95 L392.67,740.09 L394.78,747.73 L396.90,755.89 L399.02,764.56 L401.14,773.73 L403.26,783.39 L405.38,793.51 L407.50,804.06 L409.62,814.99 L411.73,826.25 L413.85,837.79 L415.97,849.54 L418.09,861.43 L420.21,873.39 L422.33,885.35 L424.45,897.23 L426.57,908.96 L428.68,920.47 L430.80,931.70 L432.92,942.58 L435.04,953.08 L437.16,963.15 L439.28,972.76 L441.40,981.88 L443.51,990.49 L445.63,998.60 L447.75,1006.19 L449.87,1013.27 L451.99,1019.85 L454.11,1025.95 L456.23,1031.58 L458.35,1036.76 L460.46,1041.52 L462.58,1045.88 L464.70,1049.86 L466.82,1053.49 L468.94,1056.80 L471.06,1059.81 L473.18,1062.53 L475.30,1065.00 L477.41,1067.24 L479.53,1069.26 L481.65,1071.08 L483.77,1072.73 L485.89,1074.21 L488.01,1075.54 L490.13,1076.74 L492.25,1077.82 L494.36,1078.79 L496.48,1079.67 L498.60,1080.45 L500.72,1081.15 L502.84,1081.78 L504.96,1082.35 L507.08,1082.85 L509.19,1083.31 L511.31,1083.72 L513.43,1084.08 L515.55,1084.41 L517.67,1084.70 L519.79,1084.96 L521.91,1085.20 L524.03,1085.41 L526.14,1085.60 L528.26,1085.77 L530.38,1085.92 L532.50,1086.05 L534.62,1086.17 L536.74,1086.28 L538.86,1086.38 L540.98,1086.46 L543.09,1086.54 L545.21,1086.61 L547.33,1086.67 L549.45,1086.73 L551.57,1086.78 L553.69,1086.82 L555.81,1086.86 L557.92,1086.90 L560.04,1086.93 L562.16,1086.96 L564.28,1086.98 L566.40,1087.01 L568.52,1087.03 L570.64,1087.05 L572.76,1087.06 L574.87,1087.08 L576.99,1087.09 L579.11,1087.10 L581.23,1087.11 L583.35,1087.12 L585.47,1087.13 L587.59,1087.14 L589.71,1087.14 L591.82,1087.15 L593.94,1087.15 L596.06,1087.16 L598.18,1087.16 L600.30,1087.17 L602.42,1087.17 L604.54,1087.17 L606.65,1087.18 L608.77,1087.18 L610.89,1087.18 L613.01,1087.18 L615.13,1087.19 L617.25,1087.19 L619.37,1087.19 L621.49,1087.19 L623.60,1087.19 L625.72,1087.19 L627.84,1087.19 L629.96,1087.19 L632.08,1087.19 L634.20,1087.19 L636.32,1087.20 L638.44,1087.20 L640.55,1087.20 L642.67,1087.20 L644.79,1087.20 L646.91,1087.20 L649.03,1087.20 L651.15,1087.20 L653.27,1087.20 L655.39,1087.20 L657.50,1087.20 L659.62,1087.20 L661.74,1087.20 L663.86,1087.20 L665.98,1087.20 L668.10,1087.20 L670.22,1087.20 L672.33,1087.20 L674.45,1087.20 L676.57,1087.20 L678.69,1087.20 L680.81,1087.20 L682.93,1087.20 L685.05,1087.20 L687.17,1087.20 L689.28,1087.20 L691.40,1087.20 L693.52,1087.20 L695.64,1087.20 L697.76,1087.20 L699.88,1087.20 L702.00,1087.20 L704.12,1087.20 L706.23,1087.20 L708.35,1087.20 L710.47,1087.20 L712.59,1087.20 L714.71,1087.20 L716.83,1087.20 L718.95,1087.20 L721.06,1087.20 L723.18,1087.20 L725.30,1087.20 L727.42,1087.20"/>
<path d="M136.30,661.10 L138.42,661.09 L140.54,661.07 L142.66,661.06 L144.78,661.04 L146.90,661.03 L149.02,661.01 L151.13,661.00 L153.25,660.98 L155.37,660.97 L157.49,660.95 L159.61,660.94 L161.73,660.92 L163.85,660.91 L165.96,660.89 L168.08,660.88 L170.20,660.86 L172.32,660.85 L174.44,660.83 L176.56,660.82 L178.68,660.80 L180.80,660.78 L182.91,660.77 L185.03,660.75 L187.15,660.74 L189.27,660.72 L191.39,660.71 L193.51,660.69 L195.63,660.68 L197.75,660.66 L199.86,660.65 L201.98,660.63 L204.10,660.62 L206.22,660.60 L208.34,660.59 L210.46,660.57 L212.58,660.56 L214.69,660.54 L216.81,660.53 L218.93,660.51 L221.05,660.50 L223.17,660.48 L225.29,660.47 L227.41,660.45 L229.53,660.43 L231.64,660.42 L233.76,660.40 L235.88,660.39 L238.00,660.37 L240.12,660.36 L242.24,660.34 L244.36,660.33 L246.48,660.31 L248.59,660.30 L250.71,660.28 L252.83,660.27 L254.95,660.25 L257.07,660.24 L259.19,660.22 L261.31,660.21 L263.43,660.19 L265.54,660.18 L267.66,660.16 L269.78,660.15 L271.90,660.13 L274.02,660.12 L276.14,660.10 L278.26,660.08 L280.37,660.07 L282.49,660.05 L284.61,660.04 L286.73,660.02 L288.85,660.01 L290.97,659.99 L293.09,659.98 L295.21,659.96 L297.32,659.95 L299.44,659.93 L301.56,659.92 L303.68,659.90 L305.80,659.89 L307.92,659.87 L310.04,659.86 L312.16,659.84 L314.27,659.83 L316.39,659.81 L318.51,659.80 L320.63,659.78 L322.75,659.77 L324.87,659.75 L326.99,659.74 L329.10,659.72 L331.22,659.71 L333.34,659.69 L335.46,659.68 L337.58,659.66 L339.70,659.65 L341.82,659.63 L343.94,659.62 L346.05,659.60 L348.17,659.59 L350.29,659.57 L352.41,659.56 L354.53,659.54 L356.65,659.53 L358.77,659.51 L360.89,659.50 L363.00,659.48 L365.12,659.47 L367.24,659.46 L369.36,659.44 L371.48,659.43 L373.60,659.41 L375.72,659.40 L377.84,659.39 L379.95,659.37 L382.07,659.36 L384.19,659.35 L386.31,659.34 L388.43,659.33 L390.55,659.31 L392.67,659.30 L394.78,659.29 L396.90,659.28 L399.02,659.27 L401.14,659.27 L403.26,659.26 L405.38,659.25 L407.50,659.25 L409.62,659.24 L411.73,659.24 L413.85,659.24 L415.97,659.24 L418.09,659.24 L420.21,659.25 L422.33,659.25 L424.45,659.26 L426.57,659.27 L428.68,659.29 L430.80,659.31 L432.92,659.33 L435.04,659.36 L437.16,659.39 L439.28,659.43 L441.40,659.48 L443.51,659.53 L445.63,659.60 L447.75,659.67 L449.87,659.75 L451.99,659.84 L454.11,659.95 L456.23,660.07 L458.35,660.20 L460.46,660.36 L462.58,660.54 L464.70,660.73 L466.82,660.96 L468.94,661.21 L471.06,661.50 L473.18,661.82 L475.30,662.18 L477.41,662.59 L479.53,663.04 L481.65,663.56 L483.77,664.13 L485.89,664.78 L488.01,665.50 L490.13,666.31 L492.25,667.21 L494.36,668.22 L496.48,669.35 L498.60,670.61 L500.72,672.01 L502.84,673.58 L504.96,675.32 L507.08,677.26 L509.19,679.42 L511.31,681.80 L513.43,684.45 L515.55,687.38 L517.67,690.61 L519.79,694.18 L521.91,698.10 L524.03,702.41 L526.14,707.13 L528.26,712.29 L530.38,717.90 L532.50,724.01 L534.62,730.61 L536.74,737.74 L538.86,745.40 L540.98,753.60 L543.09,762.34 L545.21,771.61 L547.33,781.39 L549.45,791.66 L551.57,802.39 L553.69,813.52 L555.81,825.01 L557.92,836.80 L560.04,848.82 L562.16,860.99 L564.28,873.23 L566.40,885.48 L568.52,897.64 L570.64,909.64 L572.76,921.40 L574.87,932.87 L576.99,943.97 L579.11,954.67 L581.23,964.90 L583.35,974.64 L585.47,983.87 L587.59,992.57 L589.71,1000.73 L591.82,1008.36 L593.94,1015.45 L596.06,1022.02 L598.18,1028.09 L600.30,1033.68 L602.42,1038.81 L604.54,1043.50 L606.65,1047.79 L608.77,1051.69 L610.89,1055.24 L613.01,1058.46 L615.13,1061.38 L617.25,1064.02 L619.37,1066.40 L621.49,1068.55 L623.60,1070.48 L625.72,1072.23 L627.84,1073.79 L629.96,1075.20 L632.08,1076.46 L634.20,1077.60 L636.32,1078.61 L638.44,1079.52 L640.55,1080.34 L642.67,1081.07 L644.79,1081.72 L646.91,1082.31 L649.03,1082.83 L651.15,1083.30 L653.27,1083.72 L655.39,1084.09 L657.50,1084.42 L659.62,1084.72 L661.74,1084.99 L663.86,1085.23 L665.98,1085.44 L668.10,1085.63 L670.22,1085.80 L672.33,1085.95 L674.45,1086.08 L676.57,1086.20 L678.69,1086.31 L680.81,1086.41 L682.93,1086.49 L685.05,1086.57 L687.17,1086.64 L689.28,1086.70 L691.40,1086.75 L693.52,1086.80 L695.64,1086.84 L697.76,1086.88 L699.88,1086.92 L702.00,1086.95 L704.12,1086.97 L706.23,1087.00 L708.35,1087.02 L710.47,1087.04 L712.59,1087.06 L714.71,1087.07 L716.83,1087.09 L718.95,1087.10 L721.06,1087.11 L723.18,1087.12 L725.30,1087.13 L727.42,1087.14"/>
</g>
<circle cx="175.8" cy="669.3" r="6.7" fill="#999999" stroke="#000" stroke-width="3.0"/>
<circle cx="239.8" cy="667.6" r="6.7" fill="#999999" stroke="#000" stroke-width="3.0"/>
<circle cx="266.5" cy="663.4" r="6.7" fill="#999999" stroke="#000" stroke-width="3.0"/>
<circle cx="291.6" cy="668.9" r="6.7" fill="#999999" stroke="#000" stroke-width="3.0"/>
<circle cx="310.2" cy="663.8" r="6.7" fill="#999999" stroke="#000" stroke-width="3.0"/>
<circle cx="355.0" cy="663.8" r="6.7" fill="#999999" stroke="#000" stroke-width="3.0"/>
<circle cx="361.4" cy="665.5" r="6.7" fill="#999999" stroke="#000" stroke-width="3.0"/>
<circle cx="377.4" cy="663.4" r="6.7" fill="#999999" stroke="#000" stroke-width="3.0"/>
<circle cx="413.7" cy="661.2" r="6.7" fill="#999999" stroke="#000" stroke-width="3.0"/>
<circle cx="430.8" cy="660.4" r="6.7" fill="#999999" stroke="#000" stroke-width="3.0"/>
<circle cx="458.0" cy="655.3" r="6.7" fill="#999999" stroke="#000" stroke-width="3.0"/>
<circle cx="506.0" cy="673.2" r="6.7" fill="#999999" stroke="#000" stroke-width="3.0"/>
<circle cx="534.3" cy="713.7" r="6.7" fill="#999999" stroke="#000" stroke-width="3.0"/>
<circle cx="545.0" cy="782.3" r="6.7" fill="#999999" stroke="#000" stroke-width="3.0"/>
<circle cx="571.6" cy="922.6" r="6.7" fill="#999999" stroke="#000" stroke-width="3.0"/>
<circle cx="607.9" cy="1042.0" r="6.7" fill="#999999" stroke="#000" stroke-width="3.0"/>
<circle cx="633.5" cy="1082.1" r="6.7" fill="#999999" stroke="#000" stroke-width="3.0"/>
<circle cx="670.9" cy="1082.9" r="6.7" fill="#999999" stroke="#000" stroke-width="3.0"/>
<circle cx="727.4" cy="1087.2" r="6.7" fill="#999999" stroke="#000" stroke-width="3.0"/>
<path d="M136.3,664.8 L142.4,676.4 L130.2,676.4 Z" fill="#999999" stroke="#000" stroke-width="3.0" stroke-linejoin="round"/>
<path d="M175.8,646.5 L181.9,658.1 L169.7,658.1 Z" fill="#999999" stroke="#000" stroke-width="3.0" stroke-linejoin="round"/>
<path d="M291.6,650.3 L297.7,661.9 L285.5,661.9 Z" fill="#999999" stroke="#000" stroke-width="3.0" stroke-linejoin="round"/>
<path d="M310.2,664.0 L316.3,675.6 L304.1,675.6 Z" fill="#999999" stroke="#000" stroke-width="3.0" stroke-linejoin="round"/>
<path d="M342.2,667.8 L348.3,679.4 L336.1,679.4 Z" fill="#999999" stroke="#000" stroke-width="3.0" stroke-linejoin="round"/>
<path d="M355.0,690.8 L361.1,702.4 L348.9,702.4 Z" fill="#999999" stroke="#000" stroke-width="3.0" stroke-linejoin="round"/>
<path d="M361.4,666.1 L367.5,677.7 L355.3,677.7 Z" fill="#999999" stroke="#000" stroke-width="3.0" stroke-linejoin="round"/>
<path d="M377.4,646.0 L383.5,657.6 L371.3,657.6 Z" fill="#999999" stroke="#000" stroke-width="3.0" stroke-linejoin="round"/>
<path d="M413.7,661.0 L419.8,672.6 L407.6,672.6 Z" fill="#999999" stroke="#000" stroke-width="3.0" stroke-linejoin="round"/>
<path d="M430.8,652.4 L436.9,664.0 L424.7,664.0 Z" fill="#999999" stroke="#000" stroke-width="3.0" stroke-linejoin="round"/>
<path d="M506.0,661.0 L512.1,672.6 L499.9,672.6 Z" fill="#999999" stroke="#000" stroke-width="3.0" stroke-linejoin="round"/>
<path d="M534.3,680.2 L540.4,691.8 L528.2,691.8 Z" fill="#999999" stroke="#000" stroke-width="3.0" stroke-linejoin="round"/>
<path d="M545.0,758.2 L551.1,769.8 L538.9,769.8 Z" fill="#999999" stroke="#000" stroke-width="3.0" stroke-linejoin="round"/>
<path d="M571.6,887.0 L577.7,898.6 L565.5,898.6 Z" fill="#999999" stroke="#000" stroke-width="3.0" stroke-linejoin="round"/>
<path d="M607.9,1041.7 L614.0,1053.3 L601.8,1053.3 Z" fill="#999999" stroke="#000" stroke-width="3.0" stroke-linejoin="round"/>
<path d="M633.5,1062.2 L639.6,1073.8 L627.4,1073.8 Z" fill="#999999" stroke="#000" stroke-width="3.0" stroke-linejoin="round"/>
<path d="M670.9,1066.0 L677.0,1077.6 L664.8,1077.6 Z" fill="#999999" stroke="#000" stroke-width="3.0" stroke-linejoin="round"/>
<path d="M727.4,1067.3 L733.5,1078.9 L721.3,1078.9 Z" fill="#999999" stroke="#000" stroke-width="3.0" stroke-linejoin="round"/>
<path d="M239.8,662.3 L245.9,650.7 L233.7,650.7 Z" fill="#999999" stroke="#000" stroke-width="3.0" stroke-linejoin="round"/>
<path d="M266.5,654.2 L272.6,642.6 L260.4,642.6 Z" fill="#999999" stroke="#000" stroke-width="3.0" stroke-linejoin="round"/>
<path d="M291.6,680.2 L297.7,668.6 L285.5,668.6 Z" fill="#999999" stroke="#000" stroke-width="3.0" stroke-linejoin="round"/>
<path d="M342.2,668.3 L348.3,656.7 L336.1,656.7 Z" fill="#999999" stroke="#000" stroke-width="3.0" stroke-linejoin="round"/>
<path d="M355.0,690.5 L361.1,678.9 L348.9,678.9 Z" fill="#999999" stroke="#000" stroke-width="3.0" stroke-linejoin="round"/>
<path d="M361.4,688.3 L367.5,676.7 L355.3,676.7 Z" fill="#999999" stroke="#000" stroke-width="3.0" stroke-linejoin="round"/>
<path d="M413.7,679.8 L419.8,668.2 L407.6,668.2 Z" fill="#999999" stroke="#000" stroke-width="3.0" stroke-linejoin="round"/>
<path d="M430.8,658.1 L436.9,646.5 L424.7,646.5 Z" fill="#999999" stroke="#000" stroke-width="3.0" stroke-linejoin="round"/>
<path d="M458.0,679.0 L464.1,667.4 L451.9,667.4 Z" fill="#999999" stroke="#000" stroke-width="3.0" stroke-linejoin="round"/>
<path d="M506.0,690.5 L512.1,678.9 L499.9,678.9 Z" fill="#999999" stroke="#000" stroke-width="3.0" stroke-linejoin="round"/>
<path d="M534.3,688.3 L540.4,676.7 L528.2,676.7 Z" fill="#999999" stroke="#000" stroke-width="3.0" stroke-linejoin="round"/>
<path d="M545.0,752.3 L551.1,740.7 L538.9,740.7 Z" fill="#999999" stroke="#000" stroke-width="3.0" stroke-linejoin="round"/>
<path d="M571.6,938.2 L577.7,926.6 L565.5,926.6 Z" fill="#999999" stroke="#000" stroke-width="3.0" stroke-linejoin="round"/>
<path d="M607.9,1054.6 L614.0,1043.0 L601.8,1043.0 Z" fill="#999999" stroke="#000" stroke-width="3.0" stroke-linejoin="round"/>
<path d="M633.5,1090.4 L639.6,1078.8 L627.4,1078.8 Z" fill="#999999" stroke="#000" stroke-width="3.0" stroke-linejoin="round"/>
<path d="M670.9,1093.9 L677.0,1082.3 L664.8,1082.3 Z" fill="#999999" stroke="#000" stroke-width="3.0" stroke-linejoin="round"/>
<path d="M727.4,1093.0 L733.5,1081.4 L721.3,1081.4 Z" fill="#999999" stroke="#000" stroke-width="3.0" stroke-linejoin="round"/>
<path d="M136.3,658.1 L142.4,646.5 L130.2,646.5 Z" fill="#ff0000" stroke="#000" stroke-width="3.0" stroke-linejoin="round"/>
<path d="M175.8,698.6 L181.9,687.0 L169.7,687.0 Z" fill="#ff0000" stroke="#000" stroke-width="3.0" stroke-linejoin="round"/>
<path d="M239.8,717.8 L245.9,706.2 L233.7,706.2 Z" fill="#ff0000" stroke="#000" stroke-width="3.0" stroke-linejoin="round"/>
<path d="M266.5,717.8 L272.6,706.2 L260.4,706.2 Z" fill="#ff0000" stroke="#000" stroke-width="3.0" stroke-linejoin="round"/>
<path d="M300.6,760.4 L306.7,748.8 L294.5,748.8 Z" fill="#ff0000" stroke="#000" stroke-width="3.0" stroke-linejoin="round"/>
<path d="M310.2,783.0 L316.3,771.4 L304.1,771.4 Z" fill="#ff0000" stroke="#000" stroke-width="3.0" stroke-linejoin="round"/>
<path d="M341.8,857.6 L347.9,846.0 L335.7,846.0 Z" fill="#ff0000" stroke="#000" stroke-width="3.0" stroke-linejoin="round"/>
<path d="M361.2,845.7 L367.3,834.1 L355.1,834.1 Z" fill="#ff0000" stroke="#000" stroke-width="3.0" stroke-linejoin="round"/>
<path d="M377.4,905.4 L383.5,893.8 L371.3,893.8 Z" fill="#ff0000" stroke="#000" stroke-width="3.0" stroke-linejoin="round"/>
<path d="M413.7,1052.5 L419.8,1040.9 L407.6,1040.9 Z" fill="#ff0000" stroke="#000" stroke-width="3.0" stroke-linejoin="round"/>
<path d="M429.7,1067.4 L435.8,1055.8 L423.6,1055.8 Z" fill="#ff0000" stroke="#000" stroke-width="3.0" stroke-linejoin="round"/>
<path d="M458.2,1084.5 L464.3,1072.9 L452.1,1072.9 Z" fill="#ff0000" stroke="#000" stroke-width="3.0" stroke-linejoin="round"/>
<path d="M506.0,1088.7 L512.1,1077.1 L499.9,1077.1 Z" fill="#ff0000" stroke="#000" stroke-width="3.0" stroke-linejoin="round"/>
<path d="M136.3,646.5 L142.4,658.1 L130.2,658.1 Z" fill="#ffa500" stroke="#000" stroke-width="3.0" stroke-linejoin="round"/>
<path d="M175.8,663.5 L181.9,675.1 L169.7,675.1 Z" fill="#ffa500" stroke="#000" stroke-width="3.0" stroke-linejoin="round"/>
<path d="M239.8,704.5 L245.9,716.1 L233.7,716.1 Z" fill="#ffa500" stroke="#000" stroke-width="3.0" stroke-linejoin="round"/>
<path d="M299.6,645.6 L305.7,657.2 L293.5,657.2 Z" fill="#ffa500" stroke="#000" stroke-width="3.0" stroke-linejoin="round"/>
<path d="M310.2,671.2 L316.3,682.8 L304.1,682.8 Z" fill="#ffa500" stroke="#000" stroke-width="3.0" stroke-linejoin="round"/>
<path d="M361.4,723.0 L367.5,734.6 L355.3,734.6 Z" fill="#ffa500" stroke="#000" stroke-width="3.0" stroke-linejoin="round"/>
<path d="M377.4,673.3 L383.5,684.9 L371.3,684.9 Z" fill="#ffa500" stroke="#000" stroke-width="3.0" stroke-linejoin="round"/>
<path d="M411.9,814.9 L418.0,826.5 L405.8,826.5 Z" fill="#ffa500" stroke="#000" stroke-width="3.0" stroke-linejoin="round"/>
<path d="M413.7,834.1 L419.8,845.7 L407.6,845.7 Z" fill="#ffa500" stroke="#000" stroke-width="3.0" stroke-linejoin="round"/>
<path d="M429.7,920.6 L435.8,932.2 L423.6,932.2 Z" fill="#ffa500" stroke="#000" stroke-width="3.0" stroke-linejoin="round"/>
<path d="M458.2,1035.8 L464.3,1047.4 L452.1,1047.4 Z" fill="#ffa500" stroke="#000" stroke-width="3.0" stroke-linejoin="round"/>
<path d="M506.0,1066.9 L512.1,1078.5 L499.9,1078.5 Z" fill="#ffa500" stroke="#000" stroke-width="3.0" stroke-linejoin="round"/>
<circle cx="136.3" cy="661.2" r="6.7" fill="#ff0000" stroke="#000" stroke-width="3.0"/>
<circle cx="175.8" cy="686.8" r="6.7" fill="#ff0000" stroke="#000" stroke-width="3.0"/>
<circle cx="239.8" cy="696.6" r="6.7" fill="#ff0000" stroke="#000" stroke-width="3.0"/>
<circle cx="266.5" cy="701.7" r="6.7" fill="#ff0000" stroke="#000" stroke-width="3.0"/>
<circle cx="292.1" cy="738.0" r="6.7" fill="#ff0000" stroke="#000" stroke-width="3.0"/>
<circle cx="300.6" cy="747.4" r="6.7" fill="#ff0000" stroke="#000" stroke-width="3.0"/>
<circle cx="310.2" cy="764.0" r="6.7" fill="#ff0000" stroke="#000" stroke-width="3.0"/>
<circle cx="341.8" cy="827.9" r="6.7" fill="#ff0000" stroke="#000" stroke-width="3.0"/>
<circle cx="361.2" cy="845.9" r="6.7" fill="#ff0000" stroke="#000" stroke-width="3.0"/>
<circle cx="377.4" cy="887.6" r="6.7" fill="#ff0000" stroke="#000" stroke-width="3.0"/>
<circle cx="413.7" cy="1050.5" r="6.7" fill="#ff0000" stroke="#000" stroke-width="3.0"/>
<circle cx="429.7" cy="1069.7" r="6.7" fill="#ff0000" stroke="#000" stroke-width="3.0"/>
<circle cx="458.2" cy="1075.7" r="6.7" fill="#ff0000" stroke="#000" stroke-width="3.0"/>
<circle cx="506.0" cy="1083.4" r="6.7" fill="#ff0000" stroke="#000" stroke-width="3.0"/>
<g font-family="Liberation Sans, sans-serif" font-size="28.6" fill="#000">
<text x="603" y="686">Fe<tspan font-size="19.5" dy="-16.5">2+</tspan><tspan dy="16.5"> cyt c</tspan></text>
<text x="624" y="749.3">M80 CH<tspan font-size="21" dy="8.6">3</tspan></text>
<text x="624" y="789.8"><tspan font-family="Liberation Serif, serif">α</tspan>-meso</text>
<text x="624" y="828.3"><tspan font-family="Liberation Serif, serif">δ</tspan>-meso</text>
<text x="147" y="917.9">Fe<tspan font-size="19.5" dy="-16.5">2+</tspan><tspan dy="16.5">-CO cyt c</tspan></text>
<text x="191.5" y="981.2">M80 CH<tspan font-size="21" dy="8.6">3</tspan></text>
<text x="191.5" y="1023.3"><tspan font-family="Liberation Serif, serif">α</tspan>-meso</text>
<text x="191.5" y="1060"><tspan font-family="Liberation Serif, serif">δ</tspan>-meso</text>
</g>
<circle cx="593.4" cy="740.7" r="8.6" fill="#999999" stroke="#000" stroke-width="3.3"/>
<path d="M593.8,773.1 L601.3,787.7 L586.3,787.7 Z" fill="#999999" stroke="#000" stroke-width="3.3" stroke-linejoin="round"/>
<path d="M593.8,827.8 L601.3,813.2 L586.3,813.2 Z" fill="#999999" stroke="#000" stroke-width="3.3" stroke-linejoin="round"/>
<circle cx="161.0" cy="972.8" r="8.6" fill="#ff0000" stroke="#000" stroke-width="3.3"/>
<path d="M161.0,1006.2 L168.5,1020.8 L153.5,1020.8 Z" fill="#ffa500" stroke="#000" stroke-width="3.3" stroke-linejoin="round"/>
<path d="M161.0,1061.3 L168.5,1046.7 L153.5,1046.7 Z" fill="#ff0000" stroke="#000" stroke-width="3.3" stroke-linejoin="round"/>
<rect x="115.7" y="637" width="631" height="474.9" fill="none" stroke="#000" stroke-width="4.4"/>
<g stroke="#000" stroke-width="4.4">
<line x1="99.5" y1="1087.2" x2="115.7" y2="1087.2"/>
<line x1="99.5" y1="1001.9" x2="115.7" y2="1001.9"/>
<line x1="99.5" y1="916.6" x2="115.7" y2="916.6"/>
<line x1="99.5" y1="831.4" x2="115.7" y2="831.4"/>
<line x1="99.5" y1="746.1" x2="115.7" y2="746.1"/>
<line x1="99.5" y1="660.8" x2="115.7" y2="660.8"/>
<line x1="126.7" y1="1111.9" x2="126.7" y2="1128"/>
<line x1="233.4" y1="1111.9" x2="233.4" y2="1128"/>
<line x1="340.1" y1="1111.9" x2="340.1" y2="1128"/>
<line x1="446.8" y1="1111.9" x2="446.8" y2="1128"/>
<line x1="553.5" y1="1111.9" x2="553.5" y2="1128"/>
<line x1="660.2" y1="1111.9" x2="660.2" y2="1128"/>
</g>
<g font-family="Liberation Sans, sans-serif" font-size="29" fill="#000">
<text x="92.5" y="1097.9" text-anchor="end">0.0</text>
<text x="92.5" y="1012.6" text-anchor="end">0.2</text>
<text x="92.5" y="927.3" text-anchor="end">0.4</text>
<text x="92.5" y="842.1" text-anchor="end">0.6</text>
<text x="92.5" y="756.8" text-anchor="end">0.8</text>
<text x="92.5" y="671.5" text-anchor="end">1.0</text>
<text x="126.7" y="1161.3" text-anchor="middle">1</text>
<text x="233.4" y="1161.3" text-anchor="middle">2</text>
<text x="340.1" y="1161.3" text-anchor="middle">3</text>
<text x="446.8" y="1161.3" text-anchor="middle">4</text>
<text x="553.5" y="1161.3" text-anchor="middle">5</text>
<text x="660.2" y="1161.3" text-anchor="middle">6</text>
</g>
<text font-family="Liberation Sans, sans-serif" font-size="31" x="431.5" y="1195.6" text-anchor="middle">[GuHCl] (M)</text>
<text font-family="Liberation Sans, sans-serif" font-size="30.5" transform="translate(34,873.2) rotate(-90)" text-anchor="middle">Normalized peak intensity</text>
<text font-family="Liberation Sans, sans-serif" font-size="35" x="3" y="650">(b)</text>
</svg>
</body></html>
